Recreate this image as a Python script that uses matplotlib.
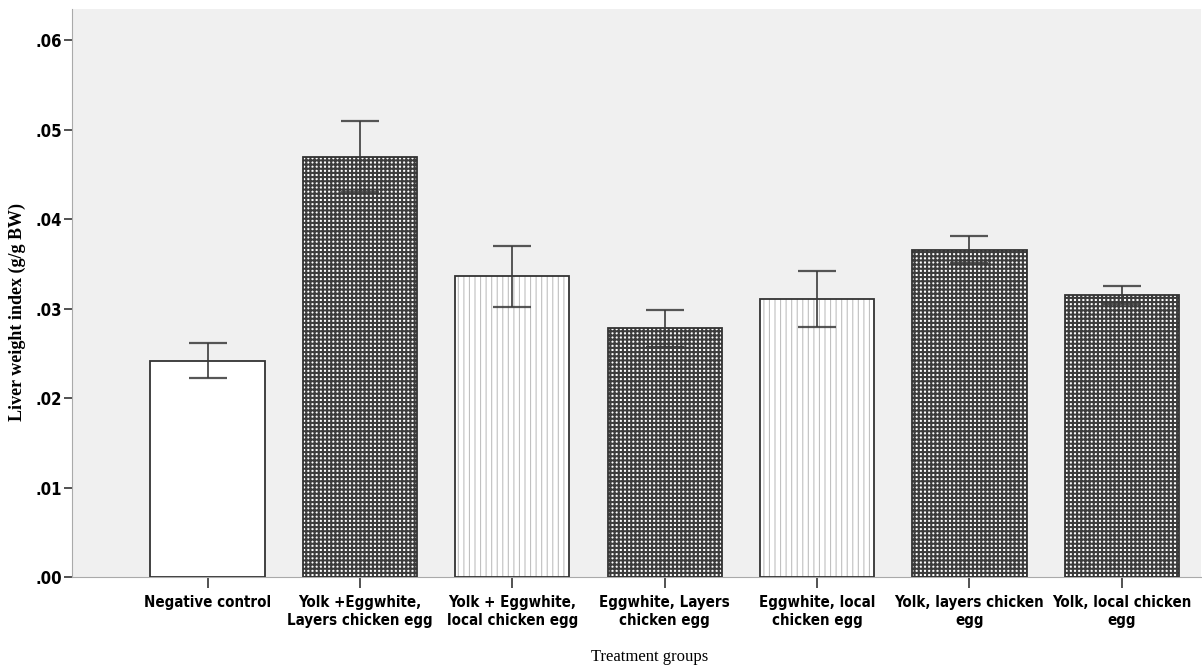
import matplotlib
matplotlib.use('Agg')
import matplotlib.pyplot as plt
from matplotlib import font_manager
from matplotlib.ticker import FuncFormatter
import numpy as np

# ── data ──────────────────────────────────────────────────────
groups = ['Negative control',
          'Yolk +Eggwhite,\nLayers chicken egg',
          'Yolk + Eggwhite,\nlocal chicken egg',
          'Eggwhite, Layers\nchicken egg',
          'Eggwhite, local\nchicken egg',
          'Yolk, layers chicken\negg',
          'Yolk, local chicken\negg']
means = [0.0242, 0.0470, 0.0336, 0.0278, 0.0311, 0.0366, 0.0315]
errs = [0.0020, 0.0040, 0.0034, 0.0021, 0.0031, 0.0015, 0.0010]
patterns = ['none', 'check', 'dots', 'check', 'dots', 'check', 'check']

# condensed bold font, if the system has one
cond = [f for f in font_manager.fontManager.ttflist
        if f.stretch in ('condensed', 'semi-condensed', 'extra-condensed', 375)
        or 'Narrow' in f.name or 'Condensed' in f.fname]
cond_bold = [f for f in cond if (f.weight in ('bold', 700) or 'Bold' in f.fname)]
tick_font = font_manager.FontProperties(fname=cond_bold[0].fname) if cond_bold else None

# ── figure ────────────────────────────────────────────────────
fig = plt.figure(figsize=(12.02, 6.69), dpi=100)
ax = fig.add_axes([72/1202, 92/669, 1129/1202, 568/669])
ax.set_facecolor('#f0f0f0')

x = np.arange(len(groups))
w = 0.75
hatch_map = {'none': '', 'check': '++++', 'dots': '|||'}
hcol_map = {'none': 'white', 'check': '#3c3c3c', 'dots': '#c0c0c0'}

for xi, m, p in zip(x, means, patterns):
    plt.rcParams['hatch.linewidth'] = 0.8 if p == 'dots' else 1.5
    ax.bar(xi, m, width=w, color='white', edgecolor=hcol_map[p],
           hatch=hatch_map[p], linewidth=0, zorder=2)
ax.bar(x, means, width=w, fill=False, edgecolor='#333333', linewidth=1.3, zorder=3)

ax.errorbar(x, means, yerr=errs, fmt='none', ecolor='#3a3a3a', elinewidth=1.4,
            capsize=13.5, capthick=1.6, alpha=0.85, zorder=4)

ax.set_xlim(-0.89, 6.52)
ax.set_ylim(0, 0.0635)
ax.set_yticks(np.arange(0, 0.061, 0.01))
ax.yaxis.set_major_formatter(FuncFormatter(lambda v, _: f'{v:.2f}'.lstrip('0')))
ax.set_xticks(x)
ax.set_xticklabels(groups)

for lab in ax.get_xticklabels() + ax.get_yticklabels():
    if tick_font is not None:
        lab.set_fontproperties(tick_font)
        lab.set_fontsize(10.8)
    else:
        lab.set_fontfamily('Liberation Sans')
        lab.set_fontweight('bold')
        lab.set_fontsize(10)
    lab.set_linespacing(1.25)
for lab in ax.get_yticklabels():
    lab.set_fontsize(12 if tick_font is not None else 11.5)

ax.tick_params(axis='y', length=6, width=1.2, color='#333333', pad=1)
ax.tick_params(axis='x', length=8, width=1.2, color='#333333', pad=5)

for s in ['top', 'right']:
    ax.spines[s].set_visible(False)
ax.spines['left'].set_color('#aaaaaa')
ax.spines['bottom'].set_color('#aaaaaa')

ax.set_ylabel('Liver weight index (g/g BW)', family='Liberation Serif',
              fontweight='bold', fontsize=13)
ax.yaxis.set_label_coords(-46/1129, 0.467)
ax.set_xlabel('Treatment groups', family='Liberation Serif', fontsize=12)
ax.xaxis.set_label_coords((650-72)/1129, -72/568)

fig.savefig('out.png', dpi=100)
